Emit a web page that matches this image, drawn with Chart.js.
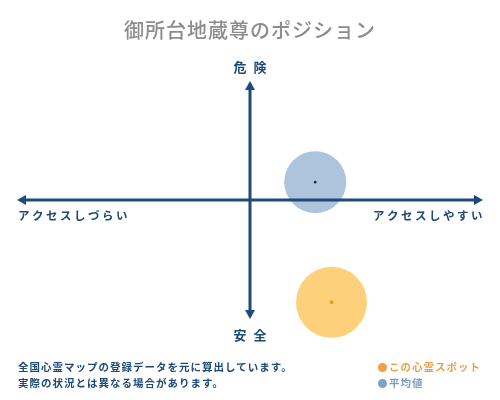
<!DOCTYPE html>
<html>
<head>
<meta charset="utf-8">
<script src="https://cdn.jsdelivr.net/npm/chart.js@4"></script>
<style>
  html, body { margin: 0; padding: 0; background: #fff; }
  #wrap { position: relative; width: 500px; height: 400px; font-family: "Noto Sans CJK JP", sans-serif; }
  #wrap canvas { position: absolute; left: 0; top: 0; }
  .title { position: absolute; left: 0; width: 500px; top: 15px; text-align: center; font-size: 20px; color: #8c8c8c; font-weight: 500; letter-spacing: 1px; }
  .note { position: absolute; left: 18px; top: 359px; font-size: 10.5px; line-height: 16px; color: #1d4a78; font-weight: bold; letter-spacing: 1px; }
  .legend { position: absolute; left: 378px; top: 359px; font-size: 10.5px; line-height: 16px; font-weight: bold; letter-spacing: 1px; }
  .legend span.dot { display: inline-block; width: 9px; height: 9px; border-radius: 50%; margin-right: 2px; vertical-align: -1px; }
</style>
</head>
<body>
<div id="wrap">
  <canvas id="pos" width="500" height="400"></canvas>
  <div class="title">御所台地蔵尊のポジション</div>
  <div class="note">全国心霊マップの登録データを元に算出しています。<br>実際の状況とは異なる場合があります。</div>
  <div class="legend">
    <div style="color:#e9a04a;"><span class="dot" style="background:#f0a040;"></span>この心霊スポット</div>
    <div style="color:#7f9cbf;"><span class="dot" style="background:#7fa3c8;"></span>平均値</div>
  </div>
</div>
<script>
// positions on the two axes: x = access (-10 hard .. 10 easy), y = danger (-10 safe .. 10 danger)
const seriesNames = ['この心霊スポット', '平均値'];
const accessValues = [3.5, 2.8];
const dangerValues = [-8.6, 1.5];
const bubbleRadius = [35.5, 31];
const axisLabels = { top: '危 険', bottom: '安 全', left: 'アクセスしづらい', right: 'アクセスしやすい' };

const NAVY = '#1d4a78';

const axisPlugin = {
    id: 'crossAxes',
    afterDatasetsDraw(chart) {
        const { ctx, chartArea: a, scales } = chart;
        const cx = scales.x.getPixelForValue(0);
        const cy = scales.y.getPixelForValue(0);
        ctx.save();
        ctx.strokeStyle = NAVY;
        ctx.fillStyle = NAVY;
        ctx.lineWidth = 3;
        ctx.beginPath();
        ctx.moveTo(a.left + 6, cy); ctx.lineTo(a.right - 6, cy);
        ctx.moveTo(cx, a.top + 6); ctx.lineTo(cx, a.bottom - 6);
        ctx.stroke();
        const head = (x, y, dx, dy) => {
            ctx.beginPath();
            ctx.moveTo(x, y);
            ctx.lineTo(x - dx * 9 - dy * 5, y - dy * 9 - dx * 5);
            ctx.lineTo(x - dx * 9 + dy * 5, y - dy * 9 + dx * 5);
            ctx.closePath();
            ctx.fill();
        };
        head(a.left, cy, -1, 0);
        head(a.right, cy, 1, 0);
        head(cx, a.top, 0, -1);
        head(cx, a.bottom, 0, 1);

        ctx.textBaseline = 'middle';
        ctx.font = 'bold 13px "Noto Sans CJK JP"';
        ctx.letterSpacing = '2px';
        ctx.textAlign = 'center';
        ctx.fillText(axisLabels.top, cx + 1, a.top - 14);
        ctx.fillText(axisLabels.bottom, cx + 1, a.bottom + 16);
        ctx.font = 'bold 11.5px "Noto Sans CJK JP"';
        ctx.letterSpacing = '2.5px';
        ctx.textAlign = 'left';
        ctx.fillText(axisLabels.left, a.left + 1, cy + 16);
        ctx.textAlign = 'right';
        ctx.fillText(axisLabels.right, a.right + 2, cy + 16);
        ctx.restore();
    }
};

const points = accessValues.map((x, i) => ({ x, y: dangerValues[i], r: bubbleRadius[i] }));
const centers = accessValues.map((x, i) => ({ x, y: dangerValues[i] }));

new Chart(document.getElementById('pos'), {
    type: 'bubble',
    data: {
        datasets: [
            { label: seriesNames[0], data: [points[0]], backgroundColor: 'rgba(253, 203, 110, 0.9)', borderWidth: 0, clip: false, order: 3 },
            { label: seriesNames[1], data: [points[1]], backgroundColor: 'rgba(160, 185, 214, 0.85)', borderWidth: 0, clip: false, order: 4 },
            { type: 'scatter', label: 'center', data: [centers[0]], pointRadius: 2, backgroundColor: '#f39c12', borderWidth: 0, order: 1 },
            { type: 'scatter', label: 'center', data: [centers[1]], pointRadius: 1.3, backgroundColor: '#1a2a3a', borderWidth: 0, order: 2 }
        ]
    },
    options: {
        responsive: false,
        animation: false,
        layout: { autoPadding: false, padding: { left: 17, right: 17, top: 81, bottom: 81 } },
        scales: {
            x: { min: -10, max: 10, display: false },
            y: { min: -10, max: 10, display: false }
        },
        plugins: { legend: { display: false }, tooltip: { enabled: false } }
    },
    plugins: [axisPlugin]
});
</script>
</body>
</html>
